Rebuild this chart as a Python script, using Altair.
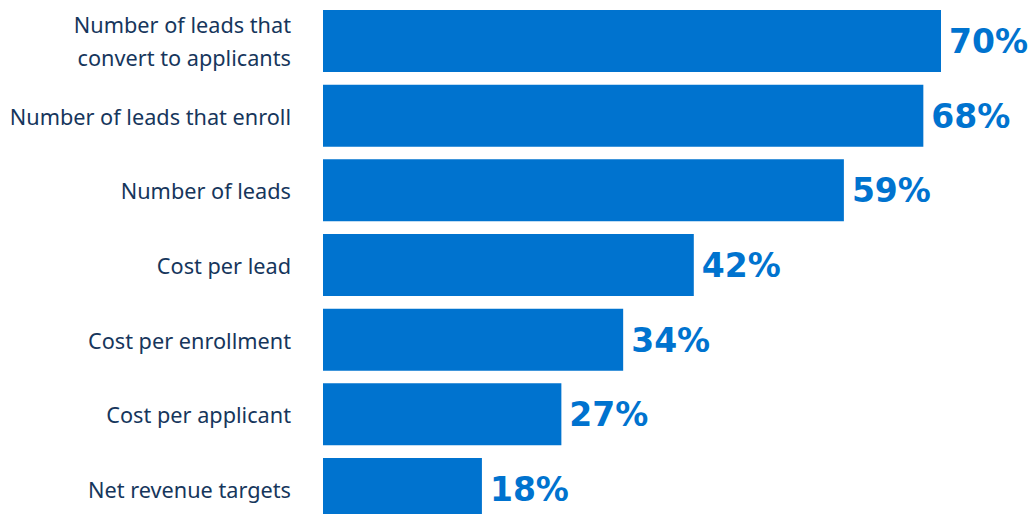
import altair as alt
import pandas as pd

categories = [
    "Number of leads that\nconvert to applicants",
    "Number of leads that enroll",
    "Number of leads",
    "Cost per lead",
    "Cost per enrollment",
    "Cost per applicant",
    "Net revenue targets",
]
values = [70, 68, 59, 42, 34, 27, 18]
value_labels = [f"{v}%" for v in values]

df = pd.DataFrame({"cat": categories, "val": values, "lab": value_labels})
df["multi"] = df["cat"].str.contains("\n")

BLUE = "#0073CF"
NAVY = "#16365C"

y = alt.Y("cat:N", sort=categories, axis=None,
          scale=alt.Scale(paddingInner=0.17, paddingOuter=0, range=[0, 510]))
x = alt.X("val:Q", axis=None, scale=alt.Scale(domain=[0, 70], nice=False, zero=True))

base = alt.Chart(df)

bars = base.mark_bar(color=BLUE).encode(x=x, y=y)

vals = base.mark_text(
    align="left", baseline="middle", dx=8, dy=2,
    font="DejaVu Sans", fontWeight="bold", fontSize=33, color=BLUE
).encode(x=x, y=y, text="lab:N")

label_style = dict(align="right", baseline="middle", lineBreak="\n",
                   font="Noto Sans", fontSize=21.7, color=NAVY, lineHeight=33)

labels_single = base.transform_filter("!datum.multi").mark_text(
    dy=2, **label_style
).encode(x=alt.value(-32), y=y, text="cat:N")

labels_multi = base.transform_filter("datum.multi").mark_text(
    dy=-15, **label_style
).encode(x=alt.value(-32), y=y, text="cat:N")

chart = alt.layer(bars, vals, labels_single, labels_multi).properties(
    width=618, height=504,
    autosize=alt.AutoSizeParams(type="none"),
    padding={"left": 323, "top": 10, "right": 91, "bottom": 0},
).configure_view(stroke=None)

chart.save("out.html", embed_options={"renderer": "svg", "actions": False})
